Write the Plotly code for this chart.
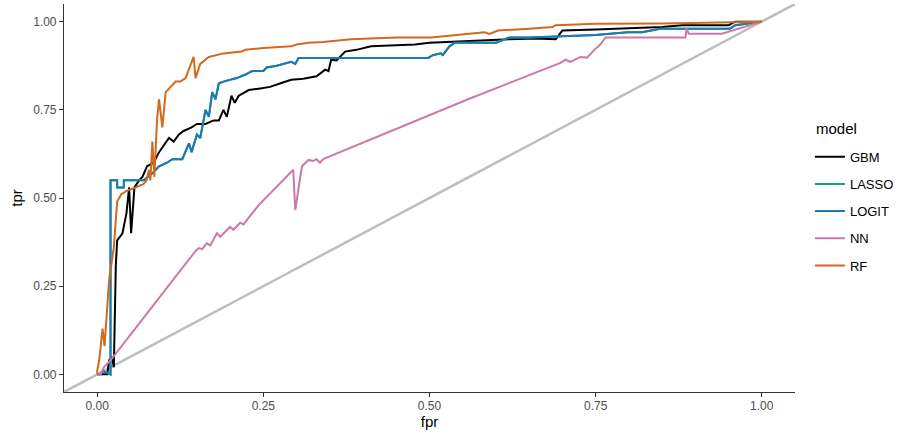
import plotly.graph_objects as go

models = ["GBM", "LASSO", "LOGIT", "NN", "RF"]
colors = {"GBM": "#000000", "LASSO": "#1B9E77", "LOGIT": "#1F78B4", "NN": "#CC79A7", "RF": "#D2691E"}

gbm_fpr = [0, 0.015, 0.018, 0.022, 0.025, 0.028, 0.03, 0.038, 0.044, 0.048, 0.051, 0.056, 0.063, 0.068, 0.075, 0.085,
           0.093, 0.1, 0.108, 0.115, 0.123, 0.13, 0.142, 0.15, 0.163, 0.175, 0.183, 0.19, 0.195, 0.202, 0.207, 0.213,
           0.228, 0.243, 0.26, 0.277, 0.292, 0.31, 0.318, 0.33, 0.343, 0.348, 0.352, 0.36, 0.373, 0.39, 0.412, 0.45,
           0.478, 0.5, 0.528, 0.56, 0.603, 0.62, 0.66, 0.69, 0.70, 0.75, 0.80, 0.85, 0.88, 0.95, 0.96, 1.0]
gbm_tpr = [0, 0.0, 0.04, 0.05, 0.02, 0.31, 0.38, 0.40, 0.457, 0.53, 0.40, 0.53, 0.55, 0.56, 0.59, 0.60,
           0.63, 0.65, 0.67, 0.66, 0.68, 0.69, 0.70, 0.71, 0.71, 0.72, 0.72, 0.75, 0.73, 0.79, 0.77, 0.79,
           0.806, 0.81, 0.815, 0.826, 0.835, 0.838, 0.84, 0.845, 0.864, 0.86, 0.892, 0.89, 0.915, 0.92, 0.93, 0.933,
           0.935, 0.94, 0.943, 0.945, 0.949, 0.95, 0.952, 0.95, 0.975, 0.978, 0.982, 0.985, 0.99, 0.99, 1.0, 1.0]

logit_fpr = [0, 0.005, 0.008, 0.02, 0.02, 0.03, 0.03, 0.04, 0.04, 0.063, 0.07, 0.083, 0.093, 0.105, 0.113, 0.128,
             0.138, 0.142, 0.15, 0.155, 0.163, 0.168, 0.173, 0.178, 0.183, 0.19, 0.2, 0.21, 0.223, 0.233, 0.25,
             0.255, 0.27, 0.292, 0.298, 0.303, 0.498, 0.505, 0.517, 0.52, 0.53, 0.538, 0.60, 0.62, 0.65, 0.70,
             0.75, 0.798, 0.82, 0.847, 0.952, 0.96, 1.0]
logit_tpr = [0, 0.0, 0.01, 0.0, 0.55, 0.55, 0.53, 0.53, 0.55, 0.55, 0.55, 0.57, 0.59, 0.60, 0.61, 0.61,
             0.655, 0.63, 0.68, 0.67, 0.75, 0.73, 0.80, 0.78, 0.825, 0.83, 0.835, 0.84, 0.85, 0.86, 0.86,
             0.87, 0.875, 0.886, 0.88, 0.897, 0.897, 0.905, 0.91, 0.905, 0.93, 0.94, 0.94, 0.955, 0.955, 0.958,
             0.962, 0.97, 0.97, 0.98, 0.98, 0.99, 1.0]

lasso_fpr = list(logit_fpr)
lasso_tpr = list(logit_tpr)

nn_fpr = [0, 0.005, 0.01, 0.02, 0.148, 0.153, 0.158, 0.165, 0.17, 0.18, 0.185, 0.2, 0.205, 0.215, 0.22, 0.243,
          0.295, 0.298, 0.308, 0.318, 0.325, 0.33, 0.335, 0.34, 0.558, 0.697, 0.705, 0.712, 0.727, 0.737, 0.748,
          0.757, 0.765, 0.885, 0.887, 0.89, 0.94, 0.98, 1.0]
nn_tpr = [0, 0.0, 0.02, 0.04, 0.35, 0.358, 0.355, 0.372, 0.365, 0.40, 0.39, 0.418, 0.41, 0.43, 0.425, 0.48,
          0.58, 0.466, 0.59, 0.608, 0.605, 0.61, 0.60, 0.61, 0.78, 0.883, 0.892, 0.886, 0.90, 0.898, 0.92,
          0.935, 0.955, 0.955, 0.98, 0.966, 0.966, 0.99, 1.0]

rf_fpr = [0, 0.0, 0.003, 0.008, 0.011, 0.018, 0.025, 0.03, 0.036, 0.044, 0.058, 0.07, 0.074, 0.078, 0.08, 0.083,
          0.086, 0.09, 0.093, 0.098, 0.103, 0.108, 0.118, 0.125, 0.133, 0.145, 0.148, 0.155, 0.168, 0.19, 0.217,
          0.223, 0.25, 0.292, 0.3, 0.318, 0.34, 0.382, 0.42, 0.45, 0.502, 0.55, 0.583, 0.59, 0.603, 0.65, 0.685,
          0.69, 0.75, 0.85, 0.98, 1.0]
rf_tpr = [0, 0.01, 0.04, 0.13, 0.08, 0.27, 0.36, 0.49, 0.51, 0.52, 0.53, 0.54, 0.55, 0.58, 0.55, 0.66,
          0.56, 0.72, 0.78, 0.70, 0.80, 0.81, 0.83, 0.83, 0.84, 0.90, 0.84, 0.88, 0.90, 0.91, 0.915,
          0.92, 0.925, 0.93, 0.935, 0.94, 0.942, 0.95, 0.952, 0.955, 0.955, 0.963, 0.97, 0.965, 0.975, 0.98, 0.985,
          0.99, 0.994, 0.995, 1.0, 1.0]

diag_x = [-0.06, 1.06]
diag_y = [-0.06, 1.06]

tick_vals = [0, 0.25, 0.5, 0.75, 1.0]
tick_text = ["0.00", "0.25", "0.50", "0.75", "1.00"]

data = {
    "GBM": (gbm_fpr, gbm_tpr),
    "LASSO": (lasso_fpr, lasso_tpr),
    "LOGIT": (logit_fpr, logit_tpr),
    "NN": (nn_fpr, nn_tpr),
    "RF": (rf_fpr, rf_tpr),
}

fig = go.Figure()
fig.add_trace(go.Scatter(x=diag_x, y=diag_y, mode="lines", line=dict(color="#BEBEBE", width=2.5),
                         showlegend=False, hoverinfo="skip"))
for m in models:
    fx, fy = data[m]
    fig.add_trace(go.Scatter(x=fx, y=fy, mode="lines", name=m, legendgroup=m,
                             line=dict(color=colors[m], width=2)))

font_family = "Liberation Sans, Arial, sans-serif"
axis_common = dict(
    tickvals=tick_vals, ticktext=tick_text, showgrid=False, zeroline=False,
    showline=True, linecolor="#333333", linewidth=1.2, ticks="outside", ticklen=4,
    tickcolor="#333333", tickfont=dict(family=font_family, size=12, color="#4D4D4D"),
)
fig.update_xaxes(range=[-0.05, 1.05], ticklabelstandoff=-2,
                 title=dict(text="fpr", font=dict(family=font_family, size=15, color="#000"), standoff=2),
                 **axis_common)
fig.update_yaxes(range=[-0.05, 1.05],
                 title=dict(text="tpr", font=dict(family=font_family, size=15, color="#000"), standoff=6),
                 **axis_common)

fig.update_layout(
    width=903, height=433,
    margin=dict(l=64, r=105, t=4, b=41),
    paper_bgcolor="white", plot_bgcolor="white",
    font=dict(family=font_family),
    legend=dict(
        x=1.0204, xanchor="left", y=0.645, yanchor="top",
        font=dict(family=font_family, size=13, color="#000"),
        tracegroupgap=7.3, bgcolor="rgba(0,0,0,0)",
    ),
    annotations=[dict(text="model", xref="paper", yref="paper", x=1.0259, y=0.680,
                      xanchor="left", yanchor="middle", showarrow=False,
                      font=dict(family=font_family, size=15, color="#000"))],
)

fig.write_html("out.html")
